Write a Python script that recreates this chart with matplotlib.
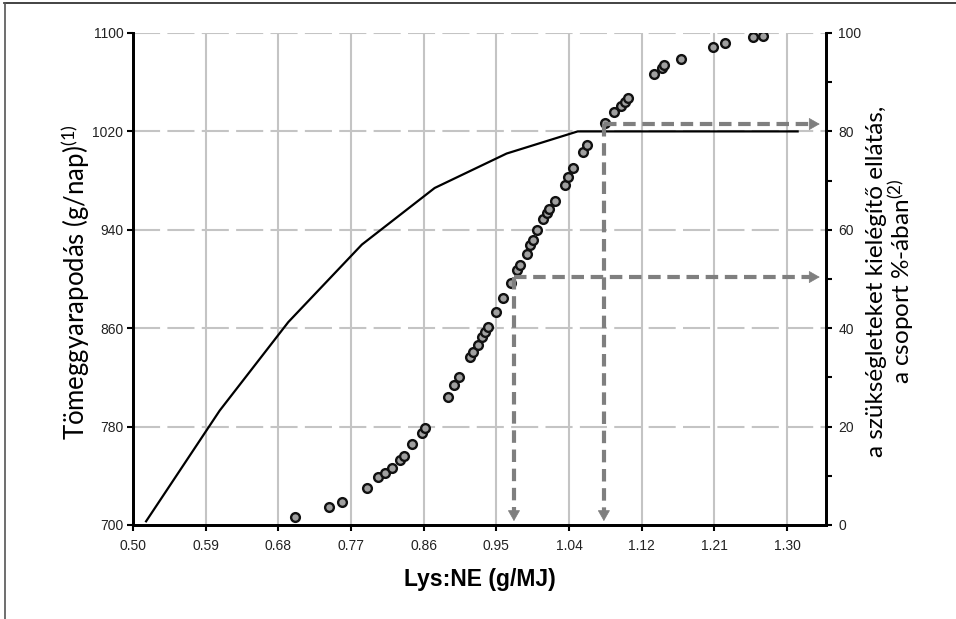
import matplotlib
matplotlib.use("Agg")
import matplotlib.pyplot as plt
from matplotlib.lines import Line2D
import numpy as np

plt.rcParams['mathtext.fontset'] = 'custom'
plt.rcParams['mathtext.rm'] = 'Lato'
plt.rcParams['mathtext.it'] = 'Lato:italic'

# ---- data ----
x_ticks = [0.50, 0.5889, 0.6778, 0.7667, 0.8556, 0.9444, 1.0333, 1.1222, 1.2111, 1.30]
x_ticklabels = ["0.50", "0.59", "0.68", "0.77", "0.86", "0.95", "1.04", "1.12", "1.21", "1.30"]
left_ticks = [700, 780, 860, 940, 1020, 1100]
right_ticks = [0, 20, 40, 60, 80, 100]

# growth curve (left axis, g/day)
curve_x = [0.516, 0.606, 0.690, 0.780, 0.869, 0.957, 1.044, 1.313]
curve_y = [703, 793, 865, 928, 974, 1002, 1020, 1020]

# % of group with requirement met (right axis)
scatter_x = [0.698, 0.740, 0.756, 0.786, 0.800, 0.808, 0.817, 0.827, 0.832, 0.841,
             0.854, 0.857, 0.885, 0.893, 0.899, 0.912, 0.916, 0.922, 0.927, 0.931,
             0.934, 0.944, 0.953, 0.962, 0.970, 0.973, 0.982, 0.986, 0.989, 0.994,
             1.002, 1.006, 1.009, 1.016, 1.028, 1.032, 1.038, 1.050, 1.055, 1.077,
             1.088, 1.097, 1.102, 1.106, 1.137, 1.147, 1.150, 1.170, 1.209, 1.224,
             1.258, 1.271]
scatter_y = [1.6, 3.7, 4.7, 7.5, 9.8, 10.6, 11.6, 13.2, 14.0, 16.5,
             18.7, 19.7, 26.0, 28.5, 30.1, 34.1, 35.2, 36.6, 38.2, 39.2,
             40.2, 43.3, 46.1, 49.2, 51.8, 52.8, 55.1, 56.9, 57.9, 60.0,
             62.2, 63.4, 64.2, 65.9, 69.1, 70.7, 72.6, 75.8, 77.2, 81.7,
             83.9, 85.2, 86.0, 86.8, 91.7, 92.9, 93.5, 94.7, 97.2, 98.0,
             99.2, 99.4]

# reading guides: (x at 50 % / 80 % of group, level in %)
guide_x = [0.966, 1.076]
guide_level = [50.4, 81.5]
guide_end_x = 1.340
guide_end_y = 0.8

# ---- figure ----
fig = plt.figure(figsize=(9.56, 6.19), dpi=100)
ax = fig.add_axes([133/956, 1-525/619, 693/956, 492/619])
ax2 = ax.twinx()

ax.set_xlim(0.5, 1.3477)
ax.set_ylim(700, 1100)
ax2.set_ylim(0, 100)

grid_c = '#c4c4c4'
for xv in x_ticks[1:]:
    ax.axvline(xv, color=grid_c, lw=1.5, zorder=0)
for yv in left_ticks[1:]:
    ax.axhline(yv, color=grid_c, lw=1.5, ls=(0, (13, 3.5)), zorder=0)

ax.plot(curve_x, curve_y, color='black', lw=1.6, zorder=3)

ax2.plot(scatter_x, scatter_y, ls='none', marker='o', ms=6.3,
         mfc='#a0a0a0', mec='#111111', mew=1.7, zorder=4)

gc = '#7f7f7f'
head = '-|>,head_length=0.7,head_width=0.4'
for gx, gl in zip(guide_x, guide_level):
    # horizontal to the right axis
    ax2.plot([gx, guide_end_x - 0.008], [gl, gl], color=gc, lw=3,
             ls=(0, (3, 1.6)), solid_capstyle='butt', zorder=5)
    ax2.annotate('', xy=(guide_end_x, gl), xytext=(guide_end_x - 0.009, gl),
                 arrowprops=dict(arrowstyle=head, color=gc, lw=0.5,
                                 shrinkA=0, shrinkB=0, mutation_scale=10), zorder=5)
    # vertical down to the x axis
    ax2.plot([gx, gx], [gl, guide_end_y + 1.6], color=gc, lw=3,
             ls=(0, (3, 1.6)), solid_capstyle='butt', zorder=5)
    ax2.annotate('', xy=(gx, guide_end_y), xytext=(gx, guide_end_y + 1.8),
                 arrowprops=dict(arrowstyle=head, color=gc, lw=0.5,
                                 shrinkA=0, shrinkB=0, mutation_scale=10), zorder=5)

# spines
for a in (ax, ax2):
    a.spines['top'].set_visible(False)
    for s in ('left', 'right', 'bottom'):
        a.spines[s].set_linewidth(2)
        a.spines[s].set_color('black')

tick_font = dict(family='Liberation Sans', size=10)
ax.set_xticks(x_ticks)
ax.set_xticklabels(x_ticklabels, **tick_font, color='#222222')
ax.set_yticks(left_ticks)
ax.set_yticklabels([str(v) for v in left_ticks], **tick_font, color='#222222')
ax2.set_yticks(right_ticks)
ax2.set_yticklabels([str(v) for v in right_ticks], **tick_font, color='#222222')
ax2.set_yticks([10, 30, 50, 70, 90], minor=True)

ax.tick_params(axis='x', direction='out', length=4, width=1.5, pad=6)
ax.tick_params(axis='y', direction='out', length=4, width=1.5, pad=3)
ax2.tick_params(axis='y', which='both', direction='out', length=4, width=1.5, pad=5)

ax.set_xlabel('Lys:NE (g/MJ)', family='Liberation Sans', weight='bold', size=16.5)
ax.xaxis.set_label_coords(0.5, -0.087)

ax.set_ylabel('Tömeggyarapodás (g/nap)$^{\\mathrm{(1)}}$', family='Lato', size=18.5)
ax.yaxis.label.set_verticalalignment('center')
ax.yaxis.set_label_coords(-0.084, 0.494)

ax2.set_ylabel('a szükségleteket kielégítő ellátás,\na csoport %-ában$^{\\mathrm{(2)}}$',
               family='Lato', size=17.5, rotation=90, linespacing=1.0)
ax2.yaxis.label.set_verticalalignment('center')
ax2.yaxis.label.set_horizontalalignment('center')
ax2.yaxis.label.set_multialignment('center')
ax2.yaxis.set_label_coords(1.095, 0.495)

# outer frame lines (top and left)
fig.add_artist(Line2D([4/956, 1], [1-3/619, 1-3/619], color='#222222', lw=1.2))
fig.add_artist(Line2D([5/956, 5/956], [0, 1-3/619], color='#555555', lw=1.2))

fig.savefig('out.png', dpi=100)
